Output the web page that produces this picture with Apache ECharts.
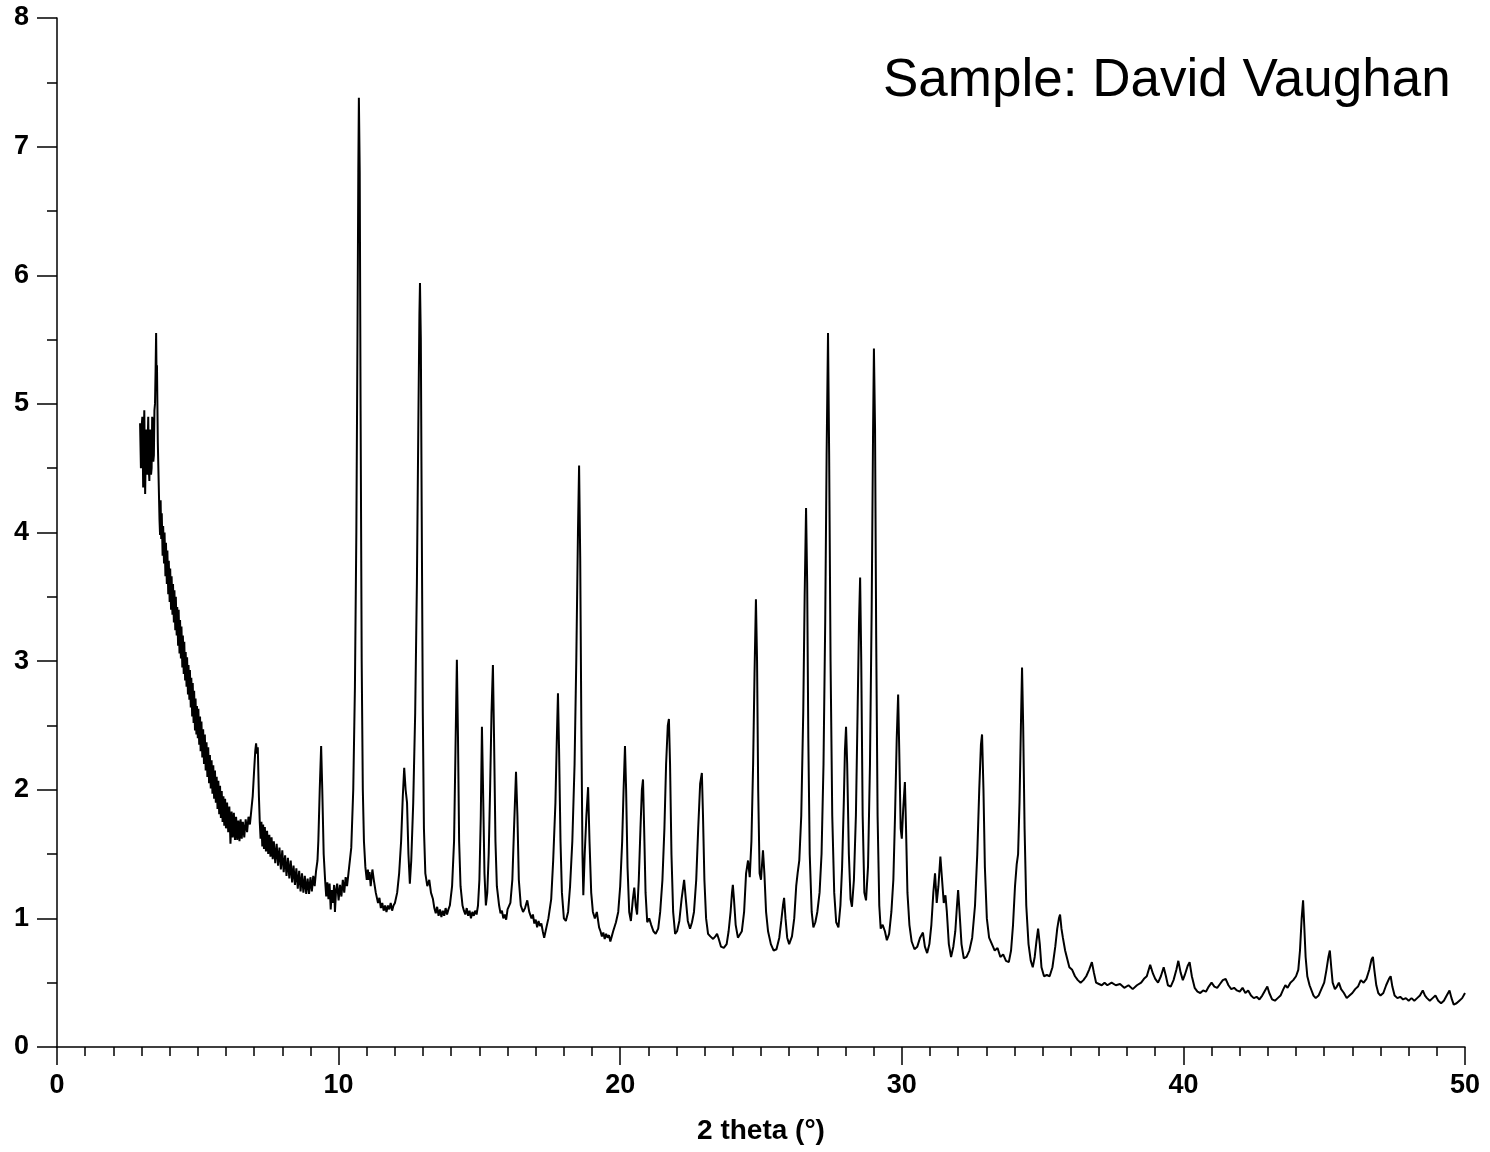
<!DOCTYPE html>
<html>
<head>
<meta charset="utf-8">
<script src="https://cdn.jsdelivr.net/npm/echarts@6/dist/echarts.min.js"></script>
<style>
html,body{margin:0;padding:0;background:#fff;}
#chart{width:1490px;height:1152px;}
</style>
</head>
<body>
<div id="chart"></div>
<script>
// Titles / labels
var chartTitle = "Sample: David Vaughan";
var xAxisTitle = "2 theta (\u00B0)";
var xTicks = [0, 10, 20, 30, 40, 50];
var yTicks = [0, 1, 2, 3, 4, 5, 6, 7, 8];

// Pattern: [2 theta, intensity]
var lowAngle = [
[2.95,4.85],[2.98,4.5],[3.0,4.8],[3.03,4.9],[3.06,4.35],[3.08,4.7],[3.1,4.95],[3.13,4.3],[3.15,4.6],[3.17,4.8],[3.2,4.45],[3.22,4.7],[3.24,4.9],[3.26,4.5],[3.28,4.4],[3.3,4.8],[3.32,4.75],[3.34,4.45],[3.36,4.5],[3.38,4.9],[3.4,4.85],[3.42,4.55],[3.44,4.6],[3.46,4.95],[3.48,5.0],[3.5,5.25],[3.52,5.55],[3.54,5.1],[3.55,5.3],[3.57,4.9],[3.58,4.7],[3.6,4.5],[3.62,4.3],[3.64,4.1],[3.66,3.98],[3.68,4.25],[3.7,3.95],[3.72,4.15],[3.75,3.82],[3.77,4.05],[3.8,3.76],[3.82,4.0],[3.85,3.66],[3.87,3.92],[3.9,3.6],[3.92,3.86],[3.95,3.52],[3.97,3.78],[4.0,3.46],[4.02,3.72],[4.05,3.4],[4.07,3.66],[4.1,3.36],[4.12,3.6],[4.15,3.3],[4.17,3.55],[4.2,3.24],[4.22,3.5],[4.25,3.2],[4.27,3.42],[4.3,3.12],[4.32,3.4],[4.35,3.06],[4.37,3.32],[4.4,3.02],[4.42,3.27],[4.45,2.95],[4.47,3.2],[4.5,2.9],[4.52,3.15],[4.55,2.85],[4.57,3.07],[4.6,2.8],[4.62,3.03],[4.65,2.74],[4.67,2.97],[4.7,2.7],[4.72,2.93],[4.75,2.64],[4.77,2.87],[4.8,2.57],[4.82,2.83],[4.85,2.52],[4.87,2.77],[4.9,2.46],[4.92,2.71],[4.95,2.43],[4.97,2.65],[5.0,2.4],[5.02,2.63],[5.05,2.35],[5.08,2.57],[5.1,2.3],[5.13,2.53],[5.16,2.25],[5.19,2.47],[5.22,2.2],[5.25,2.43],[5.28,2.15],[5.31,2.37],[5.34,2.1],[5.37,2.33],[5.4,2.05],[5.43,2.27],[5.46,2.01],[5.49,2.23],[5.52,1.97],[5.55,2.19],[5.58,1.93],[5.61,2.15],[5.64,1.9],[5.67,2.1],[5.7,1.85],[5.73,2.07],[5.76,1.81],[5.79,2.03],[5.82,1.78],[5.85,1.99],[5.88,1.75],[5.91,1.95],[5.94,1.72],[5.97,1.93],[6.0,1.7],[6.04,1.9],[6.08,1.67],[6.12,1.87],[6.16,1.58],[6.2,1.83],[6.24,1.63],[6.28,1.82],[6.32,1.61],[6.36,1.79],[6.4,1.61],[6.44,1.76],[6.48,1.6],[6.52,1.77],[6.56,1.62],[6.6,1.75],[6.65,1.63],[6.7,1.77],[6.75,1.67],[6.8,1.79],[6.85,1.73],[6.9,1.84],[6.95,1.95],[7.0,2.15],[7.04,2.3],[7.07,2.36],[7.1,2.28],[7.13,2.33],[7.17,1.95],[7.2,1.75],[7.23,1.62],[7.26,1.75],[7.29,1.56],[7.32,1.73],[7.35,1.54],[7.38,1.71],[7.42,1.52],[7.46,1.68],[7.5,1.5],[7.54,1.65],[7.58,1.48],[7.62,1.63],[7.66,1.46],[7.7,1.6],[7.75,1.43],[7.8,1.58],[7.85,1.41],[7.9,1.55],[7.95,1.38],[8.0,1.53],[8.05,1.36],[8.1,1.49],[8.15,1.33],[8.2,1.47],[8.25,1.31],[8.3,1.45],[8.35,1.28],[8.4,1.41],[8.45,1.26],[8.5,1.39],[8.55,1.23],[8.6,1.37],[8.65,1.21],[8.7,1.35],[8.75,1.2],[8.8,1.33],[8.85,1.19],[8.9,1.31],[8.95,1.19],[9.0,1.32],[9.05,1.21],[9.1,1.33],[9.15,1.25],[9.2,1.37],[9.25,1.45],[9.28,1.6],[9.33,2.0],[9.38,2.34],[9.42,2.0],[9.47,1.5],[9.52,1.3],[9.56,1.17],[9.6,1.28],[9.64,1.15],[9.68,1.27],[9.72,1.07],[9.76,1.22],[9.8,1.12],[9.84,1.26],[9.87,1.05],[9.91,1.22],[9.95,1.27],[10.0,1.14],[10.05,1.26],[10.1,1.17],[10.15,1.3],[10.2,1.2],[10.25,1.32],[10.3,1.25],[10.35,1.35],
[10.45,1.55],[10.52,2.0],[10.58,2.8],[10.63,4.0],[10.67,5.5],[10.7,6.8],[10.72,7.38],[10.75,6.8],[10.78,5.0],[10.82,3.0],[10.86,2.0],[10.9,1.6],[10.95,1.4]
];
var midAngle = [
[11.0,1.3],[11.04,1.38],[11.07,1.3],[11.1,1.36],[11.14,1.25],[11.2,1.38],[11.25,1.3],[11.32,1.2],[11.4,1.12],[11.45,1.16],[11.5,1.08],[11.55,1.12],[11.6,1.06],[11.65,1.1],[11.7,1.05],[11.75,1.1],[11.8,1.07],[11.85,1.12],[11.9,1.06],[11.95,1.1],[12.0,1.12],[12.08,1.2],[12.15,1.35],[12.22,1.6],[12.28,1.95],[12.33,2.17],[12.38,2.0],[12.43,1.9],[12.48,1.5],[12.53,1.27],[12.58,1.45],[12.65,1.9],[12.72,2.6],[12.78,3.6],[12.83,4.8],[12.87,5.7],[12.89,5.94],[12.92,5.5],[12.95,4.2],[12.99,2.6],[13.03,1.7],[13.08,1.35],[13.15,1.25],[13.22,1.3],[13.28,1.2],[13.35,1.15],[13.4,1.08],[13.45,1.04],[13.5,1.09],[13.55,1.02],[13.6,1.07],[13.65,1.01],[13.7,1.06],[13.75,1.02],[13.8,1.08],[13.85,1.03],[13.9,1.07],[13.95,1.1],[14.03,1.25],[14.1,1.6],[14.15,2.3],[14.2,3.01],[14.24,2.4],[14.28,1.6],[14.33,1.25],[14.4,1.1],[14.45,1.06],[14.5,1.03],[14.55,1.08],[14.6,1.02],[14.65,1.06],[14.7,1.0],[14.75,1.05],[14.8,1.02],[14.85,1.06],[14.9,1.03],[14.95,1.1],[15.0,1.3],[15.05,1.8],[15.09,2.49],[15.13,2.0],[15.18,1.35],[15.23,1.1],[15.28,1.2],[15.33,1.5],[15.38,2.0],[15.43,2.6],[15.48,2.97],[15.52,2.4],[15.57,1.6],[15.62,1.25],[15.7,1.1],[15.75,1.04],[15.8,1.06],[15.85,1.0],[15.9,1.03],[15.95,0.99],[16.0,1.07],[16.1,1.12],[16.17,1.3],[16.23,1.7],[16.3,2.14],[16.35,1.8],[16.4,1.3],[16.47,1.1],[16.55,1.05],[16.62,1.08],[16.7,1.14],[16.77,1.05],[16.85,1.0],[16.9,1.03],[16.95,0.96],[17.0,0.99],[17.05,0.93],[17.1,0.98],[17.15,0.94],[17.2,0.96],[17.25,0.9],[17.3,0.85],[17.38,0.93],[17.45,1.0],[17.55,1.15],[17.62,1.45],[17.7,1.9],[17.75,2.4],[17.79,2.75],[17.83,2.3],[17.88,1.6],[17.93,1.2],[18.0,1.0],[18.07,0.98],[18.15,1.05],[18.22,1.25],[18.3,1.6],[18.38,2.2],[18.44,3.0],[18.5,4.0],[18.54,4.52],[18.58,3.8],[18.62,2.5],[18.66,1.5],[18.69,1.18],[18.74,1.5],[18.8,1.8],[18.86,2.02],[18.91,1.6],[18.97,1.2],[19.03,1.05],[19.1,1.0],[19.17,1.05],[19.25,0.93],[19.3,0.9],[19.35,0.86],[19.4,0.89],[19.45,0.84],[19.5,0.88],[19.55,0.85],[19.6,0.87],[19.65,0.82],[19.7,0.86],[19.75,0.9],[19.85,0.97],[19.93,1.05],[20.0,1.25],[20.07,1.6],[20.12,2.0],[20.17,2.34],[20.21,2.0],[20.26,1.4],[20.32,1.05],[20.38,0.98],[20.45,1.15],[20.5,1.24],[20.55,1.1],[20.6,1.03],[20.66,1.3],[20.72,1.7],[20.77,2.0],[20.81,2.08],[20.85,1.7],[20.9,1.2],[20.96,0.97],[21.03,1.0],[21.1,0.95],[21.18,0.9],[21.26,0.88],[21.35,0.92],[21.42,1.05],[21.5,1.3],[21.57,1.7],[21.63,2.2],[21.69,2.5],[21.73,2.55],[21.77,2.2],[21.82,1.5],[21.88,1.05],[21.95,0.88],[22.02,0.9],[22.1,0.98],[22.18,1.15],[22.27,1.3],[22.33,1.15],[22.4,0.98],[22.48,0.92],[22.55,0.97],[22.62,1.05],[22.7,1.3],[22.77,1.7],[22.84,2.05],[22.9,2.13],[22.94,1.8],[22.99,1.3],[23.05,1.0],[23.12,0.88],[23.2,0.86],[23.3,0.84],[23.38,0.86],[23.44,0.88],[23.5,0.84],[23.58,0.78],[23.68,0.77],[23.78,0.8],[23.85,0.9],[23.92,1.05],[23.97,1.2],[24.0,1.26],[24.04,1.15],[24.1,0.95],[24.18,0.85],[24.25,0.84],[24.32,0.9],[24.4,1.05],[24.47,1.35],[24.54,1.45],[24.6,1.32],[24.66,1.6],[24.72,2.2],[24.77,2.9],[24.82,3.48],[24.86,3.0],[24.9,2.0],[24.95,1.35]
];
var highAngle = [
[25.0,1.3],[25.07,1.53],[25.12,1.35],[25.18,1.05],[25.25,0.9],[25.35,0.8],[25.45,0.75],[25.55,0.76],[25.65,0.85],[25.72,0.98],[25.78,1.1],[25.82,1.16],[25.87,1.0],[25.93,0.85],[26.0,0.8],[26.1,0.86],[26.18,1.0],[26.25,1.25],[26.3,1.35],[26.36,1.45],[26.43,1.8],[26.5,2.6],[26.55,3.5],[26.6,4.19],[26.64,3.6],[26.68,2.4],[26.73,1.5],[26.8,1.05],[26.86,0.93],[26.93,0.97],[27.0,1.05],[27.08,1.2],[27.15,1.5],[27.22,2.2],[27.28,3.3],[27.33,4.6],[27.38,5.55],[27.42,4.6],[27.47,3.0],[27.53,1.8],[27.6,1.2],[27.67,0.97],[27.75,0.93],[27.82,1.1],[27.88,1.4],[27.94,1.9],[27.98,2.3],[28.02,2.49],[28.06,2.2],[28.12,1.5],[28.18,1.15],[28.23,1.09],[28.3,1.3],[28.37,1.8],[28.43,2.6],[28.48,3.3],[28.52,3.65],[28.56,3.0],[28.61,1.8],[28.67,1.2],[28.73,1.14],[28.8,1.4],[28.87,2.2],[28.93,3.4],[28.98,4.8],[29.01,5.43],[29.05,4.8],[29.09,3.2],[29.14,1.8],[29.2,1.1],[29.25,0.92],[29.32,0.95],[29.4,0.9],[29.47,0.83],[29.55,0.88],[29.63,1.05],[29.7,1.3],[29.76,1.8],[29.82,2.4],[29.87,2.74],[29.91,2.3],[29.96,1.7],[30.0,1.62],[30.05,1.85],[30.11,2.06],[30.15,1.7],[30.2,1.2],[30.27,0.95],[30.35,0.82],[30.45,0.76],[30.55,0.78],[30.65,0.85],[30.75,0.89],[30.82,0.78],[30.9,0.73],[30.98,0.8],[31.05,0.95],[31.12,1.2],[31.18,1.35],[31.24,1.12],[31.3,1.25],[31.37,1.48],[31.43,1.3],[31.49,1.12],[31.55,1.18],[31.6,1.05],[31.67,0.8],[31.75,0.7],[31.83,0.78],[31.9,0.9],[31.96,1.1],[32.0,1.22],[32.05,1.05],[32.12,0.8],[32.2,0.69],[32.3,0.7],[32.4,0.75],[32.5,0.85],[32.6,1.1],[32.68,1.5],[32.75,2.0],[32.81,2.35],[32.85,2.43],[32.9,2.0],[32.95,1.4],[33.02,1.0],[33.1,0.85],[33.2,0.8],[33.3,0.75],[33.4,0.77],[33.5,0.7],[33.6,0.72],[33.7,0.67],[33.8,0.66],[33.88,0.75],[33.95,0.95],[34.02,1.25],[34.08,1.42],[34.13,1.5],[34.18,1.9],[34.23,2.5],[34.27,2.95],[34.31,2.5],[34.36,1.7],[34.42,1.1],[34.5,0.8],[34.58,0.67],[34.65,0.62],[34.72,0.7],[34.78,0.82],[34.84,0.92],[34.9,0.8],[34.96,0.62]
];
var tailAngle = [
[35.05,0.55],[35.15,0.56],[35.25,0.55],[35.35,0.62],[35.45,0.78],[35.52,0.92],[35.58,1.0],[35.62,1.03],[35.67,0.92],[35.72,0.85],[35.8,0.75],[35.88,0.68],[35.95,0.62],[36.05,0.6],[36.15,0.55],[36.25,0.52],[36.35,0.5],[36.45,0.52],[36.55,0.55],[36.65,0.6],[36.75,0.66],[36.82,0.58],[36.9,0.5],[37.0,0.49],[37.1,0.48],[37.2,0.5],[37.3,0.48],[37.45,0.5],[37.6,0.48],[37.75,0.49],[37.9,0.46],[38.05,0.48],[38.2,0.45],[38.35,0.48],[38.5,0.5],[38.6,0.53],[38.7,0.55],[38.82,0.64],[38.92,0.57],[39.0,0.53],[39.1,0.5],[39.2,0.55],[39.3,0.62],[39.38,0.55],[39.45,0.48],[39.55,0.47],[39.65,0.52],[39.75,0.6],[39.82,0.67],[39.9,0.58],[39.98,0.52],[40.05,0.56],[40.15,0.63],[40.22,0.66],[40.3,0.55],[40.4,0.46],[40.5,0.43],[40.6,0.42],[40.7,0.44],[40.8,0.43],[40.9,0.47],[41.0,0.5],[41.1,0.47],[41.2,0.46],[41.3,0.49],[41.4,0.52],[41.5,0.53],[41.6,0.48],[41.7,0.45],[41.8,0.46],[41.9,0.44],[42.0,0.43],[42.1,0.46],[42.2,0.42],[42.3,0.44],[42.4,0.4],[42.5,0.38],[42.6,0.39],[42.7,0.37],[42.8,0.4],[42.9,0.44],[42.98,0.47],[43.05,0.42],[43.15,0.37],[43.25,0.36],[43.35,0.38],[43.45,0.4],[43.55,0.45],[43.62,0.48],[43.7,0.46],[43.8,0.5],[43.9,0.52],[44.0,0.55],[44.08,0.6],[44.14,0.75],[44.2,1.0],[44.25,1.14],[44.29,0.95],[44.34,0.7],[44.4,0.55],[44.48,0.48],[44.55,0.47],[44.62,0.4],[44.7,0.38],[44.8,0.4],[44.9,0.45],[45.0,0.5],[45.08,0.6],[45.15,0.7],[45.2,0.75],[45.25,0.62],[45.3,0.5],[45.38,0.45],[45.45,0.47],[45.52,0.5],[45.6,0.45],[45.7,0.42],[45.8,0.38],[45.9,0.4],[46.0,0.42],[46.1,0.45],[46.2,0.47],[46.3,0.52],[46.4,0.5],[46.5,0.53],[46.6,0.6],[46.68,0.68],[46.73,0.7],[46.78,0.6],[46.85,0.48],[46.92,0.42],[47.0,0.4],[47.1,0.42],[47.2,0.48],[47.3,0.53],[47.36,0.55],[47.42,0.47],[47.5,0.4],[47.6,0.38],[47.7,0.39],[47.8,0.37],[47.9,0.38],[48.0,0.36],[48.1,0.38],[48.2,0.36],[48.3,0.38],[48.4,0.4],[48.5,0.44],[48.58,0.4],[48.65,0.38],[48.75,0.36],[48.85,0.38],[48.95,0.4],[49.05,0.36],[49.15,0.34],[49.25,0.36],[49.35,0.4],[49.45,0.44],[49.52,0.38],[49.6,0.33],[49.7,0.34],[49.8,0.36],[49.9,0.38],[50.0,0.42]
];

var pattern = lowAngle.concat(midAngle, highAngle, tailAngle);

var chart = echarts.init(document.getElementById('chart'), null, {renderer: 'canvas'});
var fontFam = '"Liberation Sans", Arial, sans-serif';
var tickFont = {fontFamily: fontFam, fontWeight: 'bold', fontSize: 27, color: '#000'};
var nameFont = {fontFamily: fontFam, fontWeight: 'bold', fontSize: 28, color: '#000'};
chart.setOption({
  animation: false,
  backgroundColor: '#fff',
  title: {
    text: chartTitle,
    left: 878,
    top: 50,
    textStyle: {fontFamily: fontFam, fontWeight: 'normal', fontSize: 53, color: '#000'}
  },
  grid: {left: 57, right: 25, top: 18, bottom: 105, containLabel: false},
  xAxis: {
    type: 'value',
    min: xTicks[0],
    max: xTicks[xTicks.length - 1],
    interval: 10,
    name: xAxisTitle,
    nameLocation: 'middle',
    nameGap: 70,
    nameTextStyle: nameFont,
    axisLine: {onZero: false, lineStyle: {color: '#000', width: 1.5}},
    axisTick: {show: true, inside: false, length: 18, lineStyle: {color: '#000', width: 1.5}},
    minorTick: {show: true, splitNumber: 10, length: 9, lineStyle: {color: '#000', width: 1.5}},
    axisLabel: Object.assign({margin: 25}, tickFont),
    splitLine: {show: false}
  },
  yAxis: {
    type: 'value',
    min: yTicks[0],
    max: yTicks[yTicks.length - 1],
    interval: 1,
    axisLine: {show: true, onZero: false, lineStyle: {color: '#000', width: 1.5}},
    axisTick: {show: true, inside: false, length: 20, lineStyle: {color: '#000', width: 1.5}},
    minorTick: {show: true, splitNumber: 2, length: 10, lineStyle: {color: '#000', width: 1.5}},
    axisLabel: Object.assign({margin: 28}, tickFont),
    splitLine: {show: false}
  },
  series: [{
    type: 'line',
    data: pattern,
    showSymbol: false,
    symbol: 'none',
    lineStyle: {color: '#000', width: 2},
    silent: true
  }]
});
</script>
</body>
</html>
